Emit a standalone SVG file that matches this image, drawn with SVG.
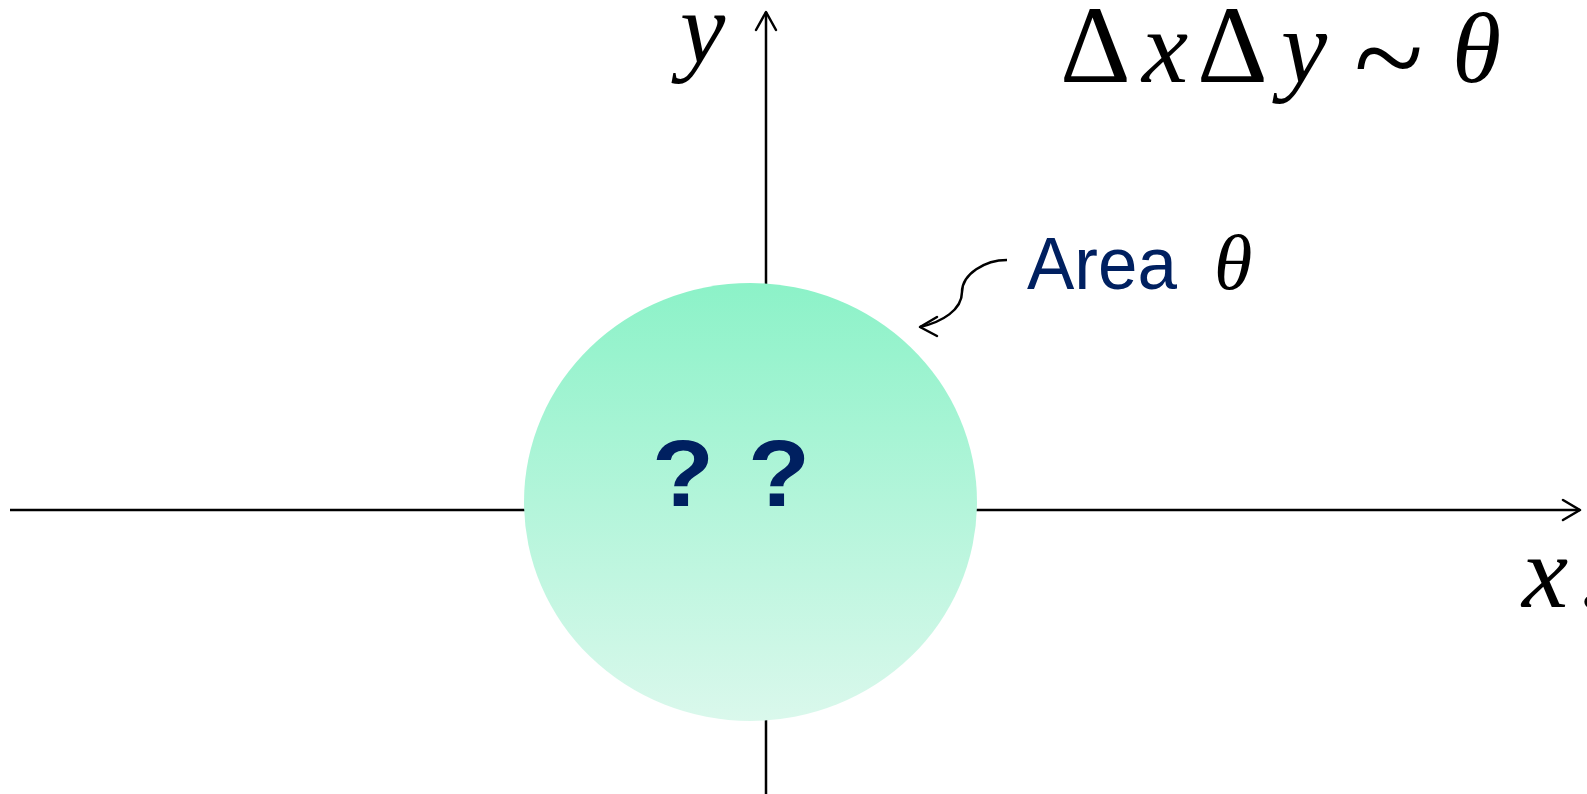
<svg xmlns="http://www.w3.org/2000/svg" width="1587" height="794" viewBox="0 0 1587 794">
  <style>
    .axis { stroke: #000; stroke-width: 2.5; fill: none; }
    .head { stroke: #000; stroke-width: 2.5; fill: none; stroke-linecap: round; stroke-linejoin: round; }
    .math { font-family: "Liberation Serif", "DejaVu Serif", serif; font-style: italic; fill: #000; }
    .mathup { font-family: "Liberation Serif", "DejaVu Serif", serif; font-style: normal; fill: #000; }
    .navy { fill: #002060; }
  </style>
  <defs>
    <linearGradient id="g" x1="0" y1="0" x2="0" y2="1">
      <stop offset="0" stop-color="#8CF2C8"/>
      <stop offset="1" stop-color="#DAF8EC"/>
    </linearGradient>
  </defs>
  <rect width="1587" height="794" fill="#fff"/>

  <g id="axes">
    <line class="axis" x1="10" y1="510" x2="1580" y2="510"/>
    <polyline class="head" points="1563,500 1580,510 1563,520"/>
    <line class="axis" x1="766" y1="12" x2="766" y2="794"/>
    <polyline class="head" points="756,30 766,12 776,30"/>
    <text class="math" font-size="102" x="680" y="62">y</text>
    <text class="math" font-size="104" x="1522" y="607">x<tspan x="1580">.</tspan></text>
  </g>

  <g id="region">
    <ellipse cx="750.5" cy="502" rx="226.5" ry="219" fill="url(#g)"/>
    <text class="navy" font-family="Liberation Sans, Arial, sans-serif" font-weight="bold" font-size="94" x="652 696 741" y="506" transform="translate(652 506) scale(1.08 1) translate(-652 -506)">? ?</text>
  </g>

  <g id="label">
    <text class="navy" font-family="Liberation Sans, Arial, sans-serif" font-size="75" x="1027" y="289" textLength="150" lengthAdjust="spacingAndGlyphs">Area</text>
    <text class="math" font-size="78" x="1214" y="289">θ</text>
  </g>

  <g id="formula">
    <text class="mathup" font-size="110" x="1060" y="82">Δ</text>
    <text class="math" font-size="104" x="1142" y="82">x</text>
    <text class="mathup" font-size="110" x="1197" y="82">Δ</text>
    <text class="math" font-size="104" x="1281" y="82">y</text>
    <text class="mathup" font-size="128" x="1354" y="100">~</text>
    <text class="math" font-size="100" x="1452" y="82">θ</text>
  </g>

  <g id="connectors">
    <path class="axis" d="M1007,260 C985,260 962,274 962,292 C962,310 942,322 920,327"/>
    <polyline class="head" points="937,317 920,327 937,336"/>
  </g>
</svg>
